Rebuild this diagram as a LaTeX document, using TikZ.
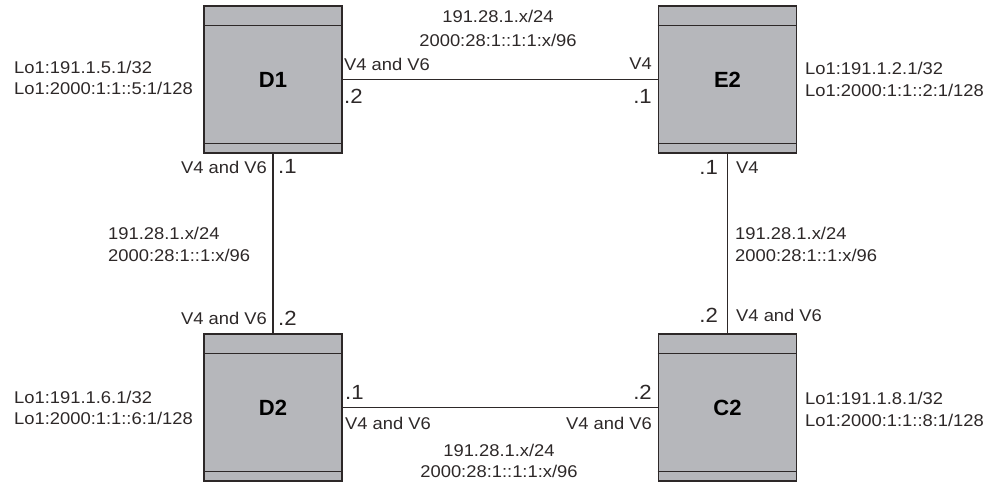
\documentclass[tikz,border=0pt]{standalone}
\usepackage{fontspec}
\setmainfont{Liberation Sans}
\newfontfamily\labfont{Liberation Sans}[FakeStretch=1.08]
\definecolor{boxfill}{RGB}{182,183,187}
\definecolor{edge}{RGB}{45,40,40}
\begin{document}
\begin{tikzpicture}[x=1pt,y=-1pt,
  router/.style={draw=edge, line width=1.6pt, fill=boxfill, minimum width=138pt, minimum height=147pt, inner sep=0pt, font=\fontsize{22}{24}\selectfont\bfseries},
  band/.style={draw=edge, line width=0.8pt},
  link/.style={draw=edge, line width=1.6pt},
  lab/.style={inner sep=0pt, font=\labfont\fontsize{17}{19}\selectfont, text=edge},
  port/.style={inner sep=0pt, font=\labfont\fontsize{20.5}{22}\selectfont, text=edge}]
\useasboundingbox (0,0) rectangle (990,484);
% routers
\node[router] (D1) at (273,79.5) {D1};
\node[router] (E2) at (727.5,79.5) {E2};
\node[router] (D2) at (273,407.5) {D2};
\node[router] (C2) at (727.5,407.5) {C2};
\foreach \r in {D1,E2,D2,C2}{
  \draw[band] ([yshift=-20pt]\r.north west) -- ([yshift=-20pt]\r.north east);
  \draw[band] ([yshift=10pt]\r.south west) -- ([yshift=10pt]\r.south east);
}
% links
\draw[link] (D1.east) -- (E2.west);
\draw[link] (D2.east) -- (C2.west);
\draw[link] (D1.south) -- (D2.north);
\draw[link] (E2.south) -- (C2.north);
% loopbacks
\node[lab, anchor=west] (d1a) at (14,67) {Lo1:191.1.5.1/32};
\node[lab, anchor=west] (d1b) at (14,88) {Lo1:2000:1:1::5:1/128};
\node[lab, anchor=west] (e2a) at (805,68) {Lo1:191.1.2.1/32};
\node[lab, anchor=west] (e2b) at (805,90) {Lo1:2000:1:1::2:1/128};
\node[lab, anchor=west] (d2a) at (14,397) {Lo1:191.1.6.1/32};
\node[lab, anchor=west] (d2b) at (14,418) {Lo1:2000:1:1::6:1/128};
\node[lab, anchor=west] (c2a) at (805,398) {Lo1:191.1.8.1/32};
\node[lab, anchor=west] (c2b) at (805,420) {Lo1:2000:1:1::8:1/128};
% top link
\node[lab] (t1) at (498,16) {191.28.1.x/24};
\node[lab] (t2) at (498,40) {2000:28:1::1:1:x/96};
\node[lab, anchor=west] (t3) at (344,64) {V4 and V6};
\node[lab, anchor=east] (t4) at (652,64) {V4};
\node[port, anchor=west] (t5) at (344,96) {.2};
\node[port, anchor=east] (t6) at (652,96) {.1};
% bottom link
\node[port, anchor=west] (b1) at (345,392) {.1};
\node[port, anchor=east] (b2) at (652,392) {.2};
\node[lab, anchor=west] (b3) at (345,423) {V4 and V6};
\node[lab, anchor=east] (b4) at (652,423) {V4 and V6};
\node[lab] (b5) at (499,450) {191.28.1.x/24};
\node[lab] (b6) at (499,471) {2000:28:1::1:1:x/96};
% left link
\node[lab, anchor=east] (l1) at (267,167) {V4 and V6};
\node[port, anchor=west] (l2) at (278,166) {.1};
\node[lab, anchor=west] (l3) at (108,233) {191.28.1.x/24};
\node[lab, anchor=west] (l4) at (108,255) {2000:28:1::1:x/96};
\node[lab, anchor=east] (l5) at (267,318) {V4 and V6};
\node[port, anchor=west] (l6) at (278,318) {.2};
% right link
\node[port, anchor=east] (r1) at (718,167) {.1};
\node[lab, anchor=west] (r2) at (736,168) {V4};
\node[lab, anchor=west] (r3) at (735,233) {191.28.1.x/24};
\node[lab, anchor=west] (r4) at (735,255) {2000:28:1::1:x/96};
\node[port, anchor=east] (r5) at (718,315) {.2};
\node[lab, anchor=west] (r6) at (736,315) {V4 and V6};
\end{tikzpicture}
\end{document}
